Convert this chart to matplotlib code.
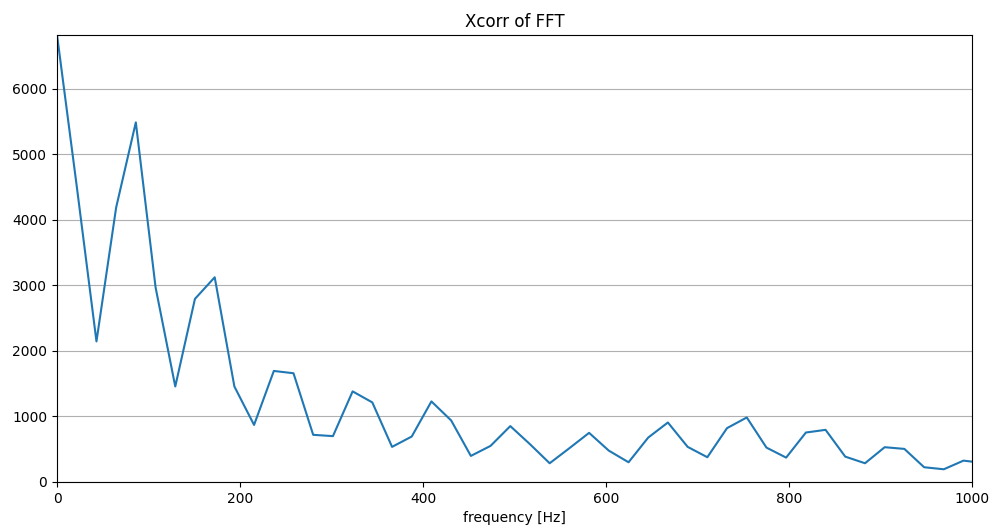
import numpy as np
import matplotlib
matplotlib.use('Agg')
import matplotlib.pyplot as plt

# frequency bins (Hz) and cross-correlation magnitude
freq = [0.0, 21.5, 43.1, 64.6, 86.1, 107.7, 129.2, 150.7, 172.3, 193.8,
        215.3, 236.9, 258.4, 279.9, 301.5, 323.0, 344.5, 366.1, 387.6, 409.1,
        430.7, 452.2, 473.7, 495.3, 516.8, 538.3, 559.9, 581.4, 602.9, 624.5,
        646.0, 667.5, 689.1, 710.6, 732.1, 753.7, 775.2, 796.7, 818.3, 839.8,
        861.3, 882.9, 904.4, 925.9, 947.5, 969.0, 990.5, 1012.0]
xcorr = [6824, 4520, 2146, 4190, 5490, 2970, 1458, 2795, 3125, 1458,
         871, 1695, 1660, 720, 700, 1383, 1215, 536, 694, 1230,
         939, 398, 551, 853, 577, 286, 516, 750, 479, 301,
         678, 908, 536, 378, 822, 985, 525, 372, 755, 796,
         387, 286, 531, 505, 225, 194, 326, 290]

fig = plt.figure(figsize=(9.9, 5.3), dpi=100)
ax = fig.add_axes([0.0576, 0.0906, 0.9244, 0.8434])

ax.plot(freq, xcorr)
ax.set_xlim(0, 1000)
ax.set_ylim(0, max(xcorr))
ax.grid(axis='y')
ax.set_title('Xcorr of FFT')
ax.set_xlabel('frequency [Hz]')

fig.savefig('out.png', dpi=100)
